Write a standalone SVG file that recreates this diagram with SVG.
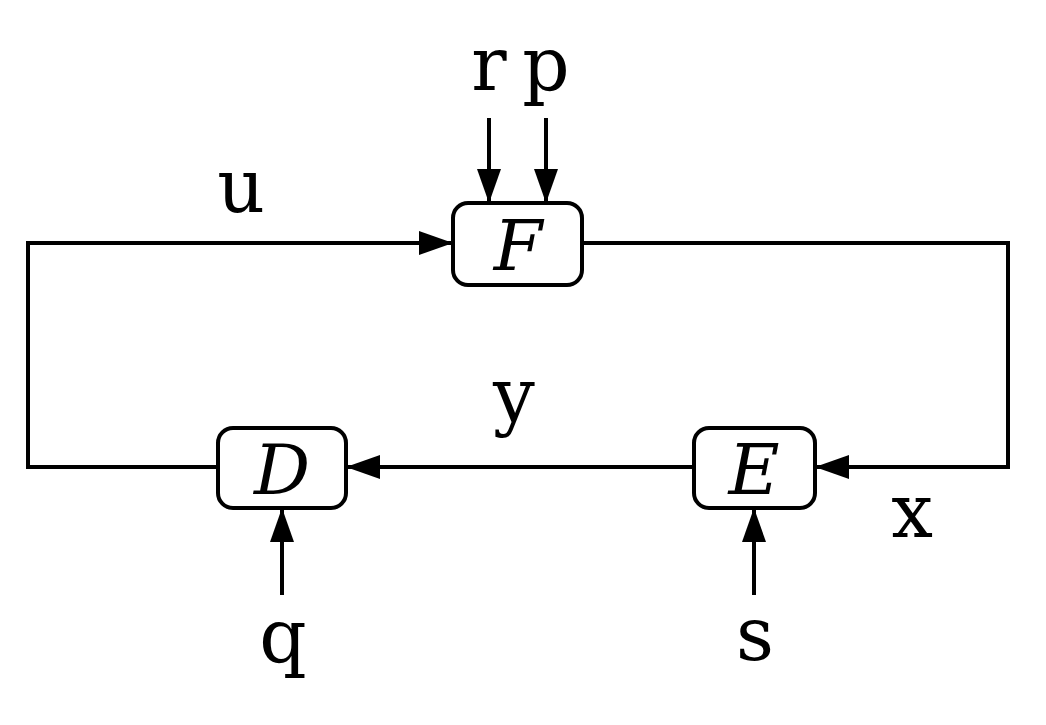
<svg xmlns="http://www.w3.org/2000/svg" width="1046" height="725" viewBox="0 0 1046 725">
<style>
.box{fill:#fff;stroke:#000;stroke-width:4}
.ln{fill:none;stroke:#000;stroke-width:4}
.lbl{font-family:'DejaVu Serif','Liberation Serif',serif;font-size:74px;text-anchor:middle;fill:#000}
.cal{font-family:'DejaVu Serif','Liberation Serif',serif;font-style:italic;font-size:70px;text-anchor:middle;fill:#000}
</style>
<defs>
<marker id="ah" markerUnits="userSpaceOnUse" markerWidth="34" markerHeight="24" refX="34" refY="12" orient="auto">
<path d="M0,0 L34,12 L0,24 Z" fill="#000"/>
</marker>
</defs>
<rect width="1046" height="725" fill="#fff"/>
<g id="connectors">
<path class="ln" d="M218,467 H28 V243 H453" marker-end="url(#ah)"/>
<path class="ln" d="M582,243 H1008 V467 H815" marker-end="url(#ah)"/>
<path class="ln" d="M694,467 H346" marker-end="url(#ah)"/>
<path class="ln" d="M489,118 V203" marker-end="url(#ah)"/>
<path class="ln" d="M546,118 V203" marker-end="url(#ah)"/>
<path class="ln" d="M282,595 V508" marker-end="url(#ah)"/>
<path class="ln" d="M754,595 V508" marker-end="url(#ah)"/>
</g>
<g id="nodeF">
<rect class="box" x="453" y="203" width="129" height="82" rx="15"/>
<text class="cal" x="518" y="270">F</text>
</g>
<g id="nodeD">
<rect class="box" x="218" y="428" width="128" height="80" rx="15"/>
<text class="cal" x="282" y="494">D</text>
</g>
<g id="nodeE">
<rect class="box" x="694" y="428" width="121" height="80" rx="15"/>
<text class="cal" x="754" y="494">E</text>
</g>
<g id="labels">
<text class="lbl" x="241" y="212">u</text>
<text class="lbl" x="489" y="90">r</text>
<text class="lbl" x="546" y="90">p</text>
<text class="lbl" x="514" y="421">y</text>
<text class="lbl" x="912" y="537">x</text>
<text class="lbl" x="283" y="662">q</text>
<text class="lbl" x="755" y="660">s</text>
</g>
</svg>
